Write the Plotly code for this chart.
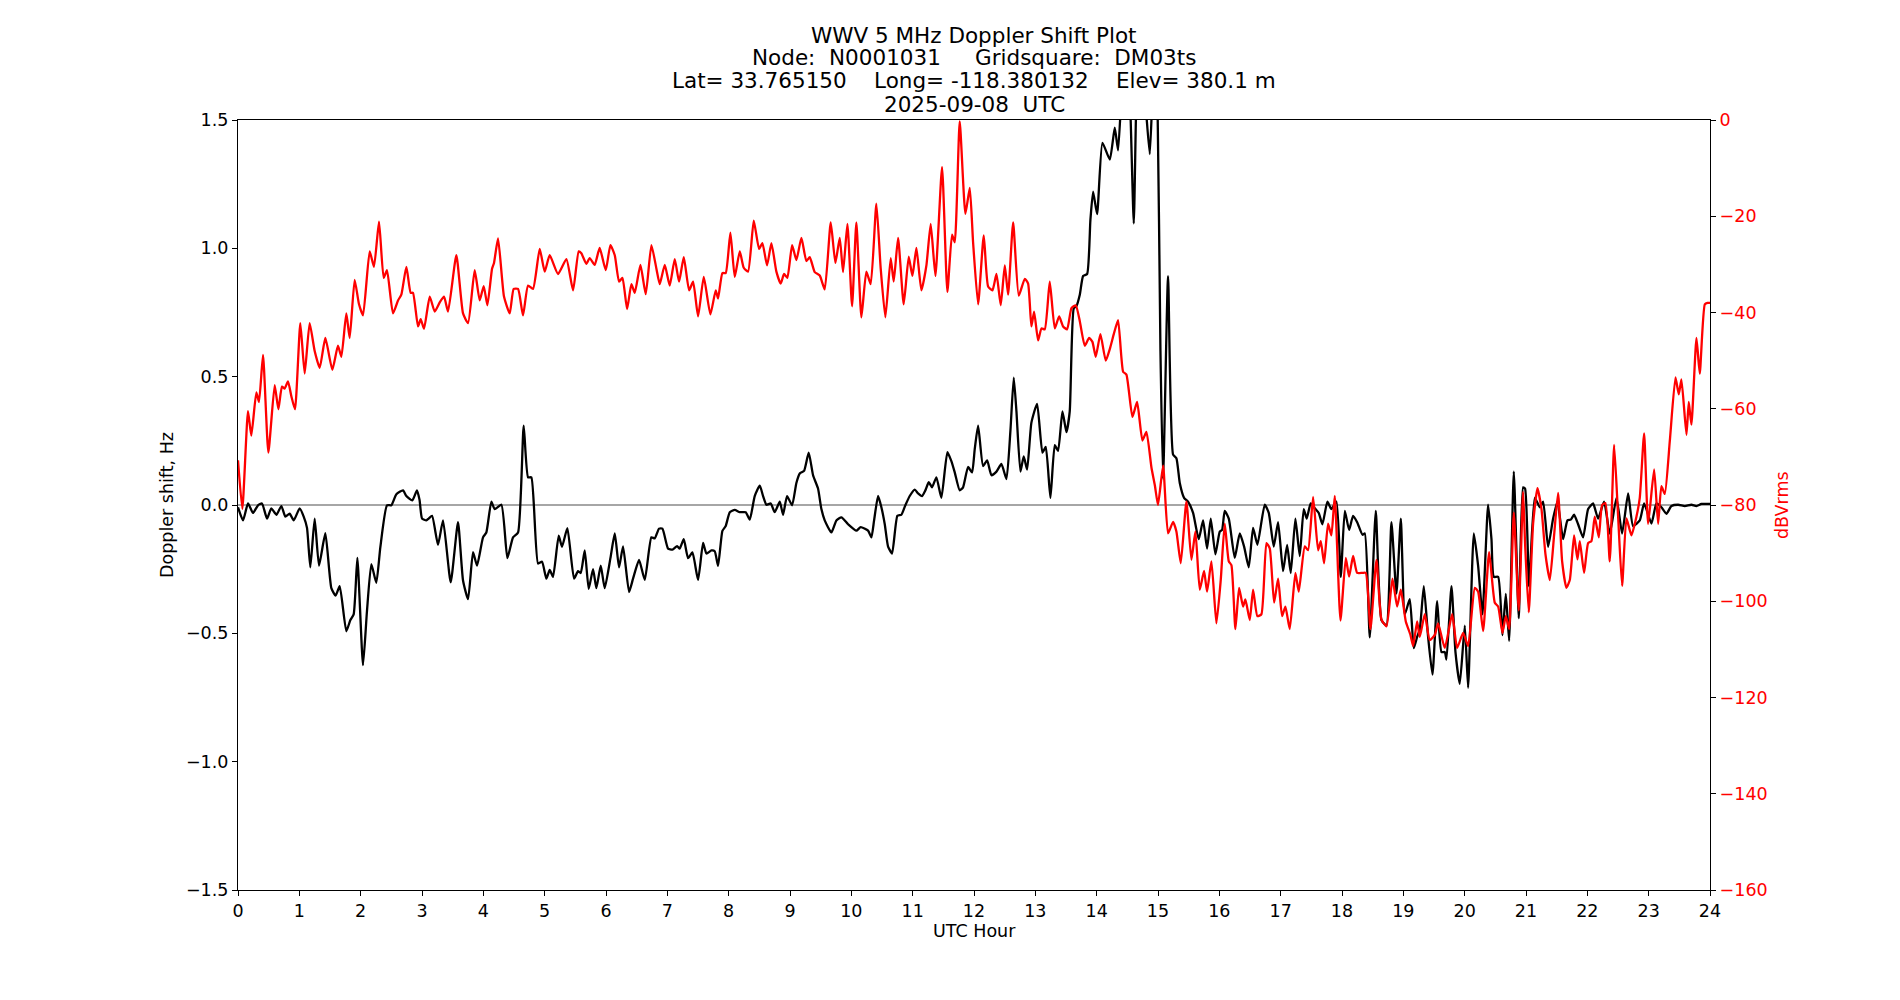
import plotly.graph_objects as go

# ---- data ----
doppler_hours = [0.000,0.082,0.163,0.245,0.326,0.391,0.473,0.543,0.625,0.707,0.772,0.842,0.908,1.005,1.071,1.125,1.179,1.250,1.321,1.424,1.522,1.592,1.658,1.766,1.832,1.886,1.946,2.038,2.103,2.174,2.255,2.321,2.429,2.500,2.582,2.690,2.745,2.842,2.918,2.960,
3.001,3.071,3.109,3.164,3.261,3.343,3.468,3.587,3.669,3.751,3.832,3.897,3.995,4.049,4.131,4.185,4.294,4.392,4.484,4.566,4.658,4.729,4.783,4.892,4.957,5.028,5.082,5.136,5.229,5.283,5.370,5.479,5.544,5.588,5.653,5.718,5.789,5.843,5.914,5.979,
6.072,6.143,6.213,6.278,6.376,6.441,6.539,6.632,6.740,6.795,6.865,6.920,7.012,7.083,7.159,7.202,7.268,7.338,7.409,7.501,7.583,7.637,7.719,7.773,7.827,7.898,7.952,8.018,8.099,8.181,8.278,8.344,8.425,8.507,8.561,8.616,8.686,8.751,8.833,8.887,8.952,
9.034,9.104,9.159,9.229,9.305,9.376,9.457,9.512,9.566,9.675,9.756,9.838,9.947,10.082,10.153,10.273,10.327,10.371,10.436,10.490,10.545,10.599,10.664,10.751,10.816,10.881,10.952,11.034,11.088,11.153,11.207,11.262,11.316,11.387,11.468,11.566,11.631,11.686,11.767,11.822,11.903,11.968,
12.012,12.067,12.148,12.214,12.284,12.366,12.447,12.529,12.594,12.648,12.692,12.757,12.811,12.866,12.936,13.029,13.116,13.170,13.246,13.317,13.371,13.442,13.507,13.561,13.627,13.670,13.725,13.779,13.844,13.898,13.942,14.007,14.094,14.214,14.295,14.349,14.404,14.470,14.540,14.605,14.649,14.700,14.800,14.866,14.909,14.950,14.990,
15.040,15.083,15.164,15.246,15.300,15.355,15.425,15.490,15.572,15.664,15.735,15.800,15.860,15.936,16.007,16.045,16.088,16.154,16.251,16.333,16.404,16.480,16.550,16.621,16.740,16.806,16.887,16.958,17.039,17.105,17.164,17.240,17.311,17.376,17.425,17.490,17.567,17.621,17.681,17.762,17.827,17.909,17.980,
18.046,18.116,18.181,18.247,18.334,18.372,18.453,18.551,18.643,18.725,18.806,18.888,18.959,19.024,19.105,19.171,19.225,19.268,19.334,19.404,19.475,19.551,19.622,19.676,19.703,19.785,19.850,19.920,20.002,20.056,20.149,20.219,20.290,20.382,20.437,20.475,20.546,20.616,20.671,20.725,20.801,20.882,20.953,20.985,21.050,
21.143,21.225,21.279,21.360,21.442,21.513,21.605,21.676,21.730,21.784,21.850,21.931,22.013,22.094,22.176,22.273,22.366,22.475,22.567,22.665,22.746,22.855,22.926,23.045,23.127,23.208,23.290,23.371,23.480,23.589,23.697,23.779,23.861,24.000]

doppler_hz = [-0.009,-0.060,0.006,-0.031,-0.001,0.006,-0.053,-0.013,-0.038,-0.004,-0.045,-0.034,-0.060,-0.013,-0.045,-0.089,-0.243,-0.053,-0.236,-0.110,-0.324,-0.353,-0.316,-0.492,-0.448,-0.426,-0.206,-0.624,-0.413,-0.230,-0.303,-0.164,-0.001,-0.001,0.042,0.057,0.035,0.018,0.057,0.020,
-0.053,-0.060,-0.053,-0.042,-0.155,-0.060,-0.301,-0.067,-0.294,-0.367,-0.184,-0.236,-0.126,-0.107,0.013,-0.016,0.001,-0.207,-0.126,-0.107,0.309,0.108,0.108,-0.228,-0.221,-0.287,-0.253,-0.280,-0.119,-0.163,-0.090,-0.287,-0.258,-0.265,-0.177,-0.327,-0.250,-0.324,-0.236,-0.324,
-0.207,-0.111,-0.243,-0.161,-0.339,-0.287,-0.214,-0.292,-0.126,-0.130,-0.092,-0.092,-0.170,-0.174,-0.160,-0.170,-0.133,-0.207,-0.185,-0.292,-0.148,-0.189,-0.177,-0.180,-0.237,-0.101,-0.082,-0.028,-0.019,-0.028,-0.028,-0.057,0.035,0.075,0.035,0.001,0.006,-0.028,0.013,-0.038,0.035,
-0.001,0.086,0.123,0.133,0.204,0.116,0.064,-0.016,-0.060,-0.107,-0.060,-0.048,-0.075,-0.100,-0.086,-0.100,-0.126,-0.060,0.035,-0.009,-0.075,-0.162,-0.189,-0.042,-0.038,-0.001,0.035,0.060,0.045,0.035,0.057,0.089,0.069,0.108,0.028,0.206,0.171,0.127,0.057,0.069,0.148,0.127,
0.218,0.309,0.152,0.174,0.116,0.130,0.160,0.101,0.290,0.496,0.365,0.130,0.189,0.138,0.321,0.394,0.204,0.226,0.028,0.233,0.211,0.365,0.284,0.365,0.767,0.775,0.819,0.892,0.900,1.111,1.221,1.133,1.411,1.346,1.470,1.382,1.600,1.800,1.600,1.097,1.600,1.800,1.550,1.367,1.600,1.800,1.600,
0.600,0.101,0.892,0.196,0.182,0.086,0.028,0.013,-0.031,-0.133,-0.060,-0.170,-0.053,-0.192,-0.104,-0.097,-0.023,-0.053,-0.206,-0.111,-0.162,-0.243,-0.089,-0.155,0.001,-0.031,-0.162,-0.067,-0.258,-0.155,-0.265,-0.053,-0.199,-0.016,-0.053,0.006,-0.016,-0.031,-0.075,0.013,-0.016,0.013,-0.280,
-0.023,-0.097,-0.042,-0.067,-0.116,-0.111,-0.516,-0.023,-0.448,-0.470,-0.067,-0.345,-0.053,-0.426,-0.367,-0.558,-0.514,-0.485,-0.316,-0.514,-0.661,-0.375,-0.573,-0.573,-0.602,-0.316,-0.573,-0.697,-0.470,-0.712,-0.111,-0.236,-0.426,0.001,-0.133,-0.280,-0.280,-0.507,-0.346,-0.529,0.130,-0.441,0.069,0.064,-0.317,
0.028,-0.009,0.013,-0.163,-0.053,0.013,-0.133,-0.060,-0.057,-0.038,-0.075,-0.126,-0.016,0.006,-0.053,0.013,-0.111,0.028,-0.111,0.045,-0.082,-0.060,0.006,-0.072,0.006,-0.009,-0.034,-0.004,0.001,-0.004,0.001,-0.004,0.004,0.004]

power_hours = [0.000,0.071,0.163,0.217,0.299,0.342,0.408,0.495,0.598,0.658,0.717,0.761,0.815,0.870,0.929,1.016,1.087,1.168,1.250,1.332,1.424,1.538,1.630,1.685,1.766,1.821,1.902,1.973,2.038,2.147,2.217,2.299,2.375,2.429,2.527,2.609,2.663,2.745,2.815,2.853,2.935,2.979,
3.033,3.126,3.207,3.289,3.359,3.424,3.560,3.669,3.751,3.859,3.941,4.006,4.066,4.142,4.174,4.240,4.337,4.430,4.495,4.566,4.647,4.729,4.810,4.919,5.001,5.082,5.218,5.354,5.463,5.555,5.598,5.680,5.734,5.815,5.897,5.996,
6.072,6.143,6.213,6.268,6.344,6.414,6.469,6.561,6.648,6.740,6.822,6.876,6.958,7.039,7.121,7.191,7.268,7.355,7.420,7.501,7.594,7.702,7.789,7.827,7.898,7.952,8.028,8.099,8.181,8.246,8.316,8.409,8.496,8.550,8.626,8.697,8.778,8.849,8.903,8.957,
9.034,9.104,9.186,9.267,9.322,9.403,9.485,9.566,9.664,9.740,9.811,9.865,9.936,10.012,10.082,10.164,10.245,10.316,10.408,10.479,10.555,10.642,10.691,10.762,10.854,10.936,10.996,11.061,11.142,11.224,11.294,11.371,11.479,11.566,11.642,11.686,11.767,11.860,11.931,11.985,
12.067,12.159,12.230,12.301,12.366,12.436,12.502,12.556,12.638,12.730,12.828,12.882,12.936,12.980,13.045,13.100,13.154,13.235,13.317,13.388,13.453,13.518,13.589,13.659,13.725,13.806,13.877,13.931,13.985,14.061,14.148,14.214,14.279,14.349,14.431,14.485,14.583,14.659,14.746,14.811,14.893,14.950,15.000,
15.083,15.164,15.246,15.300,15.371,15.463,15.545,15.610,15.681,15.751,15.800,15.871,15.952,16.023,16.088,16.154,16.197,16.262,16.322,16.387,16.425,16.496,16.550,16.621,16.686,16.768,16.822,16.893,16.958,17.023,17.077,17.148,17.240,17.295,17.393,17.447,17.529,17.610,17.654,17.708,17.773,17.827,17.882,17.975,
18.062,18.116,18.181,18.247,18.334,18.388,18.464,18.562,18.643,18.725,18.823,18.899,18.959,19.040,19.116,19.160,19.225,19.268,19.350,19.431,19.513,19.567,19.676,19.796,19.877,19.975,20.056,20.165,20.219,20.301,20.399,20.491,20.546,20.616,20.671,20.725,20.801,20.882,20.953,20.985,21.045,
21.116,21.187,21.252,21.317,21.388,21.458,21.523,21.589,21.659,21.714,21.784,21.839,21.877,21.947,22.013,22.067,22.121,22.187,22.241,22.295,22.366,22.437,22.502,22.567,22.638,22.719,22.801,22.855,22.926,22.991,23.089,23.154,23.208,23.263,23.344,23.437,23.491,23.534,23.616,23.654,23.697,23.779,23.833,23.915,23.960,24.000]

power_dbv = [-70.7,-80.8,-60.5,-65.6,-56.6,-58.6,-48.8,-69.1,-55.1,-60.1,-55.4,-55.8,-54.3,-57.4,-60.1,-42.2,-52.7,-42.2,-48.0,-51.5,-45.3,-51.9,-46.9,-49.2,-40.2,-45.3,-33.2,-38.3,-40.6,-27.3,-30.5,-21.1,-32.8,-31.2,-40.2,-37.5,-36.3,-30.5,-35.9,-35.9,-42.9,-41.4,
-43.4,-36.7,-39.8,-37.9,-36.7,-39.8,-28.1,-40.2,-42.2,-31.2,-37.5,-34.5,-38.5,-30.9,-29.7,-24.6,-36.7,-40.2,-35.1,-35.1,-40.6,-34.4,-35.1,-26.8,-31.5,-28.1,-32.0,-28.9,-35.4,-27.3,-27.7,-29.9,-28.7,-30.1,-26.6,-31.2,
-26.0,-28.1,-33.6,-32.8,-39.3,-34.1,-35.9,-30.1,-36.2,-26.0,-30.9,-34.1,-30.1,-34.4,-28.9,-33.6,-28.5,-35.4,-33.6,-40.8,-32.6,-40.4,-35.4,-37.1,-31.8,-31.8,-23.4,-32.6,-27.3,-30.7,-31.5,-20.9,-26.8,-25.6,-30.2,-25.6,-31.5,-34.0,-32.0,-32.8,
-26.0,-29.1,-24.5,-29.3,-28.5,-31.6,-32.3,-35.2,-21.3,-29.7,-24.5,-31.6,-21.6,-38.7,-21.3,-41.0,-31.5,-34.1,-17.4,-30.9,-41.0,-28.7,-33.6,-24.5,-38.3,-28.4,-32.4,-26.6,-35.4,-30.2,-21.6,-32.4,-9.8,-35.7,-23.8,-25.4,-0.3,-19.5,-14.1,-25.4,
-38.3,-24.0,-34.6,-35.4,-32.0,-38.5,-30.2,-36.3,-21.3,-36.5,-33.0,-34.0,-42.9,-39.8,-45.8,-43.3,-43.5,-33.6,-43.3,-40.8,-42.9,-43.5,-39.1,-38.5,-41.8,-46.9,-45.3,-46.1,-49.2,-44.5,-50.0,-47.6,-44.5,-41.6,-52.3,-52.9,-61.7,-58.6,-66.6,-64.8,-72.2,-76.0,-80.0,
-71.8,-85.9,-83.5,-85.5,-92.1,-79.3,-91.4,-85.5,-97.6,-93.7,-98.0,-91.7,-104.6,-95.6,-83.9,-91.7,-92.5,-105.8,-97.2,-101.1,-99.6,-103.9,-97.6,-103.1,-102.7,-87.9,-89.0,-100.3,-95.3,-103.1,-101.1,-105.8,-94.1,-98.0,-88.6,-89.4,-78.3,-89.4,-87.5,-92.1,-83.9,-86.3,-78.1,-104.0,
-91.0,-94.9,-90.6,-94.1,-94.1,-94.1,-105.8,-91.4,-103.8,-105.2,-95.3,-101.1,-97.6,-104.2,-107.0,-109.3,-104.2,-107.4,-102.7,-108.1,-107.0,-104.6,-109.7,-102.7,-109.7,-106.6,-109.3,-97.2,-98.0,-106.2,-89.8,-100.3,-101.1,-106.6,-103.1,-105.8,-81.6,-101.9,-77.3,-88.0,-102.3,
-83.9,-76.5,-80.8,-90.2,-95.6,-86.3,-77.5,-91.7,-97.2,-95.6,-86.3,-91.3,-87.5,-94.1,-87.9,-87.5,-82.4,-86.7,-80.0,-79.6,-91.7,-67.5,-82.4,-96.8,-82.8,-86.3,-82.4,-78.5,-65.1,-83.9,-72.6,-83.9,-76.1,-77.7,-66.8,-53.5,-57.0,-53.9,-65.4,-58.6,-63.3,-45.3,-52.7,-38.3,-38.0,-38.0]

title_lines = ["WWV 5 MHz Doppler Shift Plot",
               "Node:  N0001031     Gridsquare:  DM03ts",
               "Lat= 33.765150    Long= -118.380132    Elev= 380.1 m",
               "2025-09-08  UTC"]
x_ticks = list(range(0, 25))
y_ticks = [-1.5, -1.0, -0.5, 0.0, 0.5, 1.0, 1.5]
y2_ticks = list(range(-160, 1, 20))

FONT = "DejaVu Sans"
TICK = 17.5
TITLE = 21.5


def keep_spaces(s):
    # SVG collapses runs of spaces; keep them with no-break spaces
    out = []
    prev_space = False
    for ch in s:
        if ch == " " and prev_space:
            out.append("\u00a0")
        else:
            out.append(ch)
        prev_space = ch == " "
    return "".join(out)


fig = go.Figure()
fig.add_trace(go.Scatter(x=doppler_hours, y=doppler_hz, mode="lines",
                         line=dict(color="black", width=2.3, shape="spline", smoothing=0.5),
                         showlegend=False, yaxis="y", hoverinfo="skip"))
fig.add_trace(go.Scatter(x=power_hours, y=power_dbv, mode="lines",
                         line=dict(color="red", width=2.3, shape="spline", smoothing=0.5),
                         showlegend=False, yaxis="y2", hoverinfo="skip"))

fig.add_shape(type="line", xref="paper", x0=0, x1=1, yref="y", y0=0, y1=0,
              line=dict(color="#888888", width=1.3), layer="below")

axis_common = dict(ticks="outside", ticklen=5, tickwidth=1.2, tickcolor="black",
                   showline=True, linecolor="black", linewidth=1.2,
                   showgrid=False, zeroline=False)

fig.update_layout(
    width=1900, height=1000,
    margin=dict(l=238, r=190, t=120, b=110, pad=0),
    paper_bgcolor="white", plot_bgcolor="white",
    font=dict(family=FONT, size=TICK, color="black"),
    xaxis=dict(range=[0, 24], tickvals=x_ticks, ticktext=[str(v) for v in x_ticks],
               mirror=True, tickfont=dict(family=FONT, size=TICK, color="black"),
               **axis_common),
    yaxis=dict(range=[-1.5, 1.5], tickvals=y_ticks,
               ticktext=[("\u2212" if v < 0 else "") + f"{abs(v):.1f}" for v in y_ticks],
               tickfont=dict(family=FONT, size=TICK, color="black"),
               **axis_common),
    yaxis2=dict(range=[-160, 0], tickvals=y2_ticks,
                ticktext=[("\u2212" if v < 0 else "") + str(abs(v)) for v in y2_ticks],
                overlaying="y", side="right",
                tickfont=dict(family=FONT, size=TICK, color="red"),
                **axis_common),
)

annotations = []
shifts = [85.0, 63.0, 40.0, 15.8]
for txt, s in zip(title_lines, shifts):
    annotations.append(dict(text=keep_spaces(txt), xref="paper", yref="paper", x=0.5, y=1,
                            xanchor="center", yanchor="middle", yshift=s, showarrow=False,
                            font=dict(family=FONT, size=TITLE, color="black")))
annotations.append(dict(text="UTC Hour", xref="paper", yref="paper", x=0.5, y=0,
                        xanchor="center", yanchor="middle", yshift=-40.6, showarrow=False,
                        font=dict(family=FONT, size=TICK, color="black")))
annotations.append(dict(text="Doppler shift, Hz", xref="paper", yref="paper", x=0, y=0.5,
                        xanchor="center", yanchor="middle", xshift=-71, textangle=-90,
                        showarrow=False, font=dict(family=FONT, size=TICK, color="black")))
annotations.append(dict(text="dBVrms", xref="paper", yref="paper", x=1, y=0.5,
                        xanchor="center", yanchor="middle", xshift=72, textangle=-90,
                        showarrow=False, font=dict(family=FONT, size=TICK, color="red")))
fig.update_layout(annotations=annotations)

fig.write_html("out.html")
